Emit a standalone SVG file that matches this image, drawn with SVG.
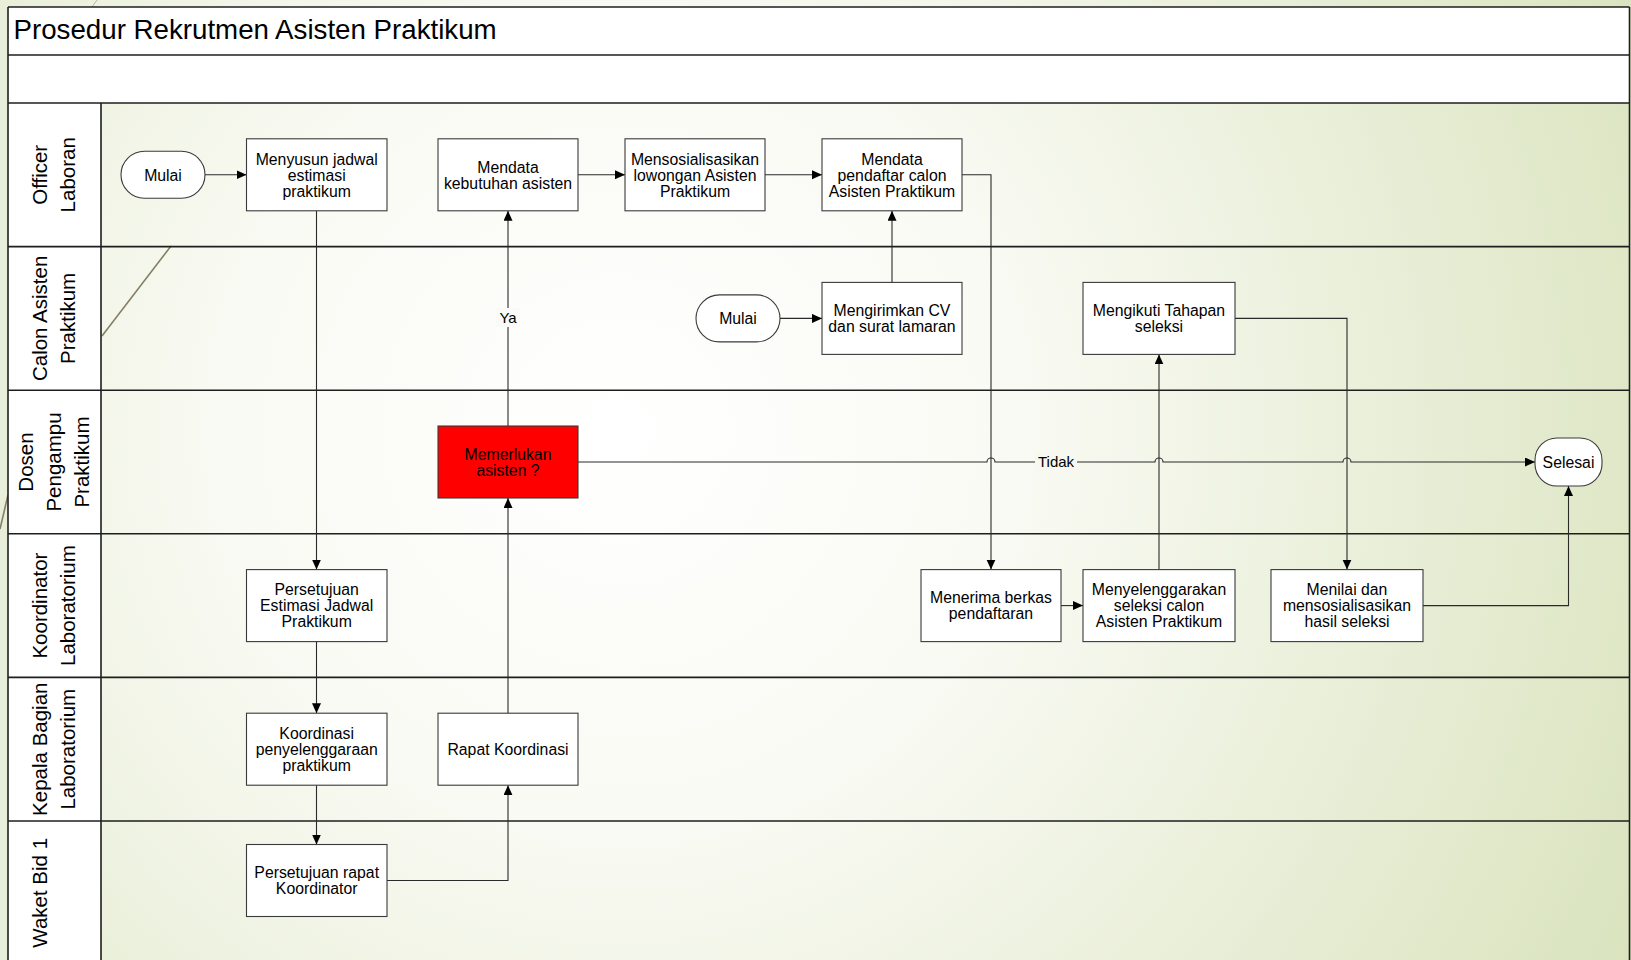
<svg xmlns="http://www.w3.org/2000/svg" width="1631" height="960" viewBox="0 0 1631 960">
<defs>
  <radialGradient id="bg" gradientUnits="userSpaceOnUse" cx="620" cy="430" r="1150">
    <stop offset="0" stop-color="#ffffff"/>
    <stop offset="0.35" stop-color="#f9faf3"/>
    <stop offset="1" stop-color="#d9e3bd"/>
  </radialGradient>
  <marker id="arr" markerUnits="userSpaceOnUse" markerWidth="11" markerHeight="10" refX="10" refY="4.5" orient="auto">
    <path d="M0,0 L10,4.5 L0,9 z" fill="#000"/>
  </marker>
  <style>
    .box { fill: #ffffff; stroke: #3a3a3a; stroke-width: 1.1; }
    .red { fill: #ff0000; stroke: #3a3a3a; stroke-width: 1.1; }
    .term { fill: #ffffff; stroke: #3a3a3a; stroke-width: 1.1; }
    .t { font-family: "Liberation Sans", Arial, sans-serif; font-size: 15.8px; fill: #000; text-anchor: middle; }
    .lane { font-family: "Liberation Sans", Arial, sans-serif; font-size: 20.5px; fill: #000; text-anchor: middle; }
    .title { font-family: "Liberation Sans", Arial, sans-serif; font-size: 27.7px; fill: #000; }
    .sep { stroke: #1e1e1e; stroke-width: 1.6; fill: none; }
    .con { stroke: #2a2a2a; stroke-width: 1.1; fill: none; marker-end: url(#arr); }
    .lbl { font-family: "Liberation Sans", Arial, sans-serif; font-size: 15px; fill: #000; text-anchor: middle; }
  </style>
</defs>

<g id="background">
  <rect x="0" y="0" width="1631" height="960" fill="url(#bg)"/>
  <rect x="0" y="0" width="8" height="960" fill="#e9eedb"/>
  <path d="M171,246 L102,336" stroke="#857f66" stroke-width="1.6" fill="none"/>
  <path d="M0,529 L8,495" stroke="#857f66" stroke-width="1.6" fill="none"/>
  <path d="M97,0 L92,7" stroke="#b8b6a2" stroke-width="1" fill="none"/>
</g>

<g id="frame">
  <rect x="8" y="7" width="1621.5" height="96" fill="#ffffff"/>
  <rect x="8" y="103" width="93" height="857" fill="#ffffff"/>
  <line class="sep" x1="8" y1="7" x2="1629.5" y2="7"/>
  <line class="sep" x1="8" y1="55" x2="1629.5" y2="55"/>
  <line class="sep" x1="8" y1="103" x2="1629.5" y2="103"/>
  <line class="sep" x1="8" y1="246.6" x2="1629.5" y2="246.6"/>
  <line class="sep" x1="8" y1="390.2" x2="1629.5" y2="390.2"/>
  <line class="sep" x1="8" y1="533.8" x2="1629.5" y2="533.8"/>
  <line class="sep" x1="8" y1="677.4" x2="1629.5" y2="677.4"/>
  <line class="sep" x1="8" y1="821" x2="1629.5" y2="821"/>
  <line class="sep" x1="8" y1="7" x2="8" y2="960"/>
  <line class="sep" x1="1629.5" y1="7" x2="1629.5" y2="960"/>
  <line class="sep" x1="101" y1="103" x2="101" y2="960" stroke="#555"/>
  <text class="title" x="13.5" y="39">Prosedur Rekrutmen Asisten Praktikum</text>
</g>

<g id="lane-labels">
  <g id="lane-officer" transform="translate(0,174.8) rotate(-90)">
    <text class="lane" x="0" y="47">Officer</text>
    <text class="lane" x="0" y="75">Laboran</text>
  </g>
  <g id="lane-calon" transform="translate(0,318.4) rotate(-90)">
    <text class="lane" x="0" y="47">Calon Asisten</text>
    <text class="lane" x="0" y="75">Praktikum</text>
  </g>
  <g id="lane-dosen" transform="translate(0,462) rotate(-90)">
    <text class="lane" x="0" y="33">Dosen</text>
    <text class="lane" x="0" y="61">Pengampu</text>
    <text class="lane" x="0" y="89">Praktikum</text>
  </g>
  <g id="lane-koordinator" transform="translate(0,605.6) rotate(-90)">
    <text class="lane" x="0" y="47">Koordinator</text>
    <text class="lane" x="0" y="75">Laboratorium</text>
  </g>
  <g id="lane-kepala" transform="translate(0,749.2) rotate(-90)">
    <text class="lane" x="0" y="47">Kepala Bagian</text>
    <text class="lane" x="0" y="75">Laboratorium</text>
  </g>
  <g id="lane-waket" transform="translate(0,892.8) rotate(-90)">
    <text class="lane" x="0" y="47">Waket Bid 1</text>
  </g>
</g>

<g id="connectors">
  <path class="con" d="M205,174.8 H246.5"/>
  <path class="con" d="M316.5,210.8 V569.6"/>
  <path class="con" d="M316.5,641.6 V713.2"/>
  <path class="con" d="M316.5,785.2 V844.5"/>
  <path class="con" d="M387,880.5 H508 V785.2"/>
  <path class="con" d="M508,713.2 V498"/>
  <path class="con" d="M508,426 V210.8"/>
  <path class="con" d="M578,462 H987 A4,4 0 0 1 995,462 H1155 A4,4 0 0 1 1163,462 H1343 A4,4 0 0 1 1351,462 H1535"/>
  <path class="con" d="M578,174.8 H625"/>
  <path class="con" d="M765,174.8 H822"/>
  <path class="con" d="M962,174.8 H991 V569.6"/>
  <path class="con" d="M780,318.4 H822"/>
  <path class="con" d="M892,282.4 V210.8"/>
  <path class="con" d="M1061,605.6 H1083"/>
  <path class="con" d="M1159,569.6 V354.4"/>
  <path class="con" d="M1235,318.4 H1347 V569.6"/>
  <path class="con" d="M1423,605.6 H1568.5 V486"/>
  <rect x="496" y="308" width="24" height="19" fill="#fafbf6"/>
  <text class="lbl" x="508" y="323">Ya</text>
  <rect x="1035" y="453" width="42" height="19" fill="#f7f8f0"/>
  <text class="lbl" x="1056" y="467">Tidak</text>
</g>

<g id="n-mulai1">
  <rect class="term" x="121" y="151.3" width="84" height="47" rx="23.5" ry="23.5"/>
  <text class="t" x="163" y="180.5">Mulai</text>
</g>
<g id="n-menyusun">
  <rect class="box" x="246.5" y="138.8" width="140.5" height="72"/>
  <text class="t" x="316.7" y="164.5">Menyusun jadwal</text>
  <text class="t" x="316.7" y="180.5">estimasi</text>
  <text class="t" x="316.7" y="196.5">praktikum</text>
</g>
<g id="n-mendata-kebutuhan">
  <rect class="box" x="438" y="138.8" width="140" height="72"/>
  <text class="t" x="508" y="172.5">Mendata</text>
  <text class="t" x="508" y="188.5">kebutuhan asisten</text>
</g>
<g id="n-mensosialisasikan">
  <rect class="box" x="625" y="138.8" width="140" height="72"/>
  <text class="t" x="695" y="164.5">Mensosialisasikan</text>
  <text class="t" x="695" y="180.5">lowongan Asisten</text>
  <text class="t" x="695" y="196.5">Praktikum</text>
</g>
<g id="n-mendata-pendaftar">
  <rect class="box" x="822" y="138.8" width="140" height="72"/>
  <text class="t" x="892" y="164.5">Mendata</text>
  <text class="t" x="892" y="180.5">pendaftar calon</text>
  <text class="t" x="892" y="196.5">Asisten Praktikum</text>
</g>
<g id="n-mulai2">
  <rect class="term" x="696" y="294.9" width="84" height="47" rx="23.5" ry="23.5"/>
  <text class="t" x="738" y="324">Mulai</text>
</g>
<g id="n-mengirimkan">
  <rect class="box" x="822" y="282.4" width="140" height="72"/>
  <text class="t" x="892" y="316">Mengirimkan CV</text>
  <text class="t" x="892" y="332">dan surat lamaran</text>
</g>
<g id="n-mengikuti">
  <rect class="box" x="1083" y="282.4" width="152" height="72"/>
  <text class="t" x="1159" y="316">Mengikuti Tahapan</text>
  <text class="t" x="1159" y="332">seleksi</text>
</g>
<g id="n-memerlukan">
  <rect class="red" x="438" y="426" width="140" height="72"/>
  <text class="t" x="508" y="459.5" fill="#1a1a1a">Memerlukan</text>
  <text class="t" x="508" y="475.5" fill="#1a1a1a">asisten ?</text>
</g>
<g id="n-selesai">
  <rect class="term" x="1535" y="438" width="67" height="48" rx="22" ry="22"/>
  <text class="t" x="1568.5" y="467.5">Selesai</text>
</g>
<g id="n-persetujuan-estimasi">
  <rect class="box" x="246.5" y="569.6" width="140.5" height="72"/>
  <text class="t" x="316.7" y="595">Persetujuan</text>
  <text class="t" x="316.7" y="611">Estimasi Jadwal</text>
  <text class="t" x="316.7" y="627">Praktikum</text>
</g>
<g id="n-menerima">
  <rect class="box" x="921" y="569.6" width="140" height="72"/>
  <text class="t" x="991" y="603">Menerima berkas</text>
  <text class="t" x="991" y="619">pendaftaran</text>
</g>
<g id="n-menyelenggarakan">
  <rect class="box" x="1083" y="569.6" width="152" height="72"/>
  <text class="t" x="1159" y="595">Menyelenggarakan</text>
  <text class="t" x="1159" y="611">seleksi calon</text>
  <text class="t" x="1159" y="627">Asisten Praktikum</text>
</g>
<g id="n-menilai">
  <rect class="box" x="1271" y="569.6" width="152" height="72"/>
  <text class="t" x="1347" y="595">Menilai dan</text>
  <text class="t" x="1347" y="611">mensosialisasikan</text>
  <text class="t" x="1347" y="627">hasil seleksi</text>
</g>
<g id="n-koordinasi">
  <rect class="box" x="246.5" y="713.2" width="140.5" height="72"/>
  <text class="t" x="316.7" y="738.5">Koordinasi</text>
  <text class="t" x="316.7" y="754.5">penyelenggaraan</text>
  <text class="t" x="316.7" y="770.5">praktikum</text>
</g>
<g id="n-rapat">
  <rect class="box" x="438" y="713.2" width="140" height="72"/>
  <text class="t" x="508" y="754.5">Rapat Koordinasi</text>
</g>
<g id="n-persetujuan-rapat">
  <rect class="box" x="246.5" y="844.5" width="140.5" height="72"/>
  <text class="t" x="316.7" y="877.5">Persetujuan rapat</text>
  <text class="t" x="316.7" y="893.5">Koordinator</text>
</g>
</svg>
